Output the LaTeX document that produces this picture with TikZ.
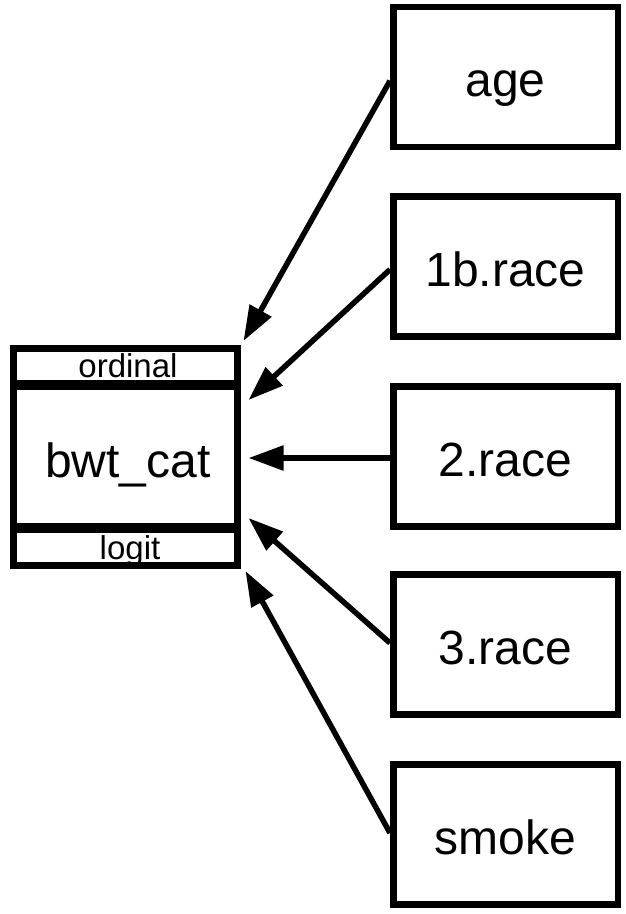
\documentclass[tikz,border=0pt]{standalone}
\usepackage{fontspec}
\setmainfont{Liberation Sans}
\usetikzlibrary{arrows.meta,calc}
\tikzset{
  varbox/.style={draw, line width=6.5pt, minimum width=224.5pt, minimum height=140pt,
    inner sep=0pt, text height=40pt, text depth=0pt, font=\fontsize{48}{50}\selectfont},
  bigtext/.style={inner sep=0pt, anchor=base, font=\fontsize{48}{50}\selectfont},
  smalltext/.style={inner sep=0pt, anchor=base, font=\fontsize{33}{35}\selectfont},
  frame/.style={draw, line width=7pt, minimum width=223.5pt, minimum height=217pt, inner sep=0pt},
  divider/.style={line width=10pt},
  arr/.style={line width=5.5pt, -{Triangle[length=35pt,width=24pt]}}
}
\begin{document}
\begin{tikzpicture}[x=1pt,y=-1pt]
\useasboundingbox (0,0) rectangle (625,914);
% left composite box
\node[frame] (frm) at (125.5,456.5) {};
\draw[divider] (frm.west |- 0,385) -- (frm.east |- 0,385);
\draw[divider] (frm.west |- 0,528) -- (frm.east |- 0,528);
\node[smalltext] (ord) at (128,377) {ordinal};
\node[bigtext] (bwt) at (128,477) {bwt\_cat};
\node[smalltext] (lgt) at (130,559) {logit};
% right boxes
\node[varbox] (age) at (505.5,76.75) {age};
\node[varbox] (r1b) at (505.5,266.5) {1b.race};
\node[varbox] (r2) at (505.5,456.5) {2.race};
\node[varbox] (r3) at (505.5,644.5) {3.race};
\node[varbox] (smk) at (505.5,834.5) {smoke};
% arrow tips on the left box
\coordinate (tA) at ($(frm.east)+(2.75,-115.5)$);
\coordinate (tB) at ($(frm.east)+(7.75,-56.5)$);
\coordinate (tC) at ($(frm.east)+(7.75,1.5)$);
\coordinate (tD) at ($(frm.east)+(7.75,61.5)$);
\coordinate (tE) at ($(frm.east)+(4.75,114.5)$);
\draw[arr] ($(age.west)+(0,4)$) -- (tA);
\draw[arr] ($(r1b.west)+(0,3)$) -- (tB);
\draw[arr] ($(r2.west)+(0,1.5)$) -- (tC);
\draw[arr] ($(r3.west)+(0,-1.5)$) -- (tD);
\draw[arr] ($(smk.west)+(0,-1.5)$) -- (tE);
\end{tikzpicture}
\end{document}
